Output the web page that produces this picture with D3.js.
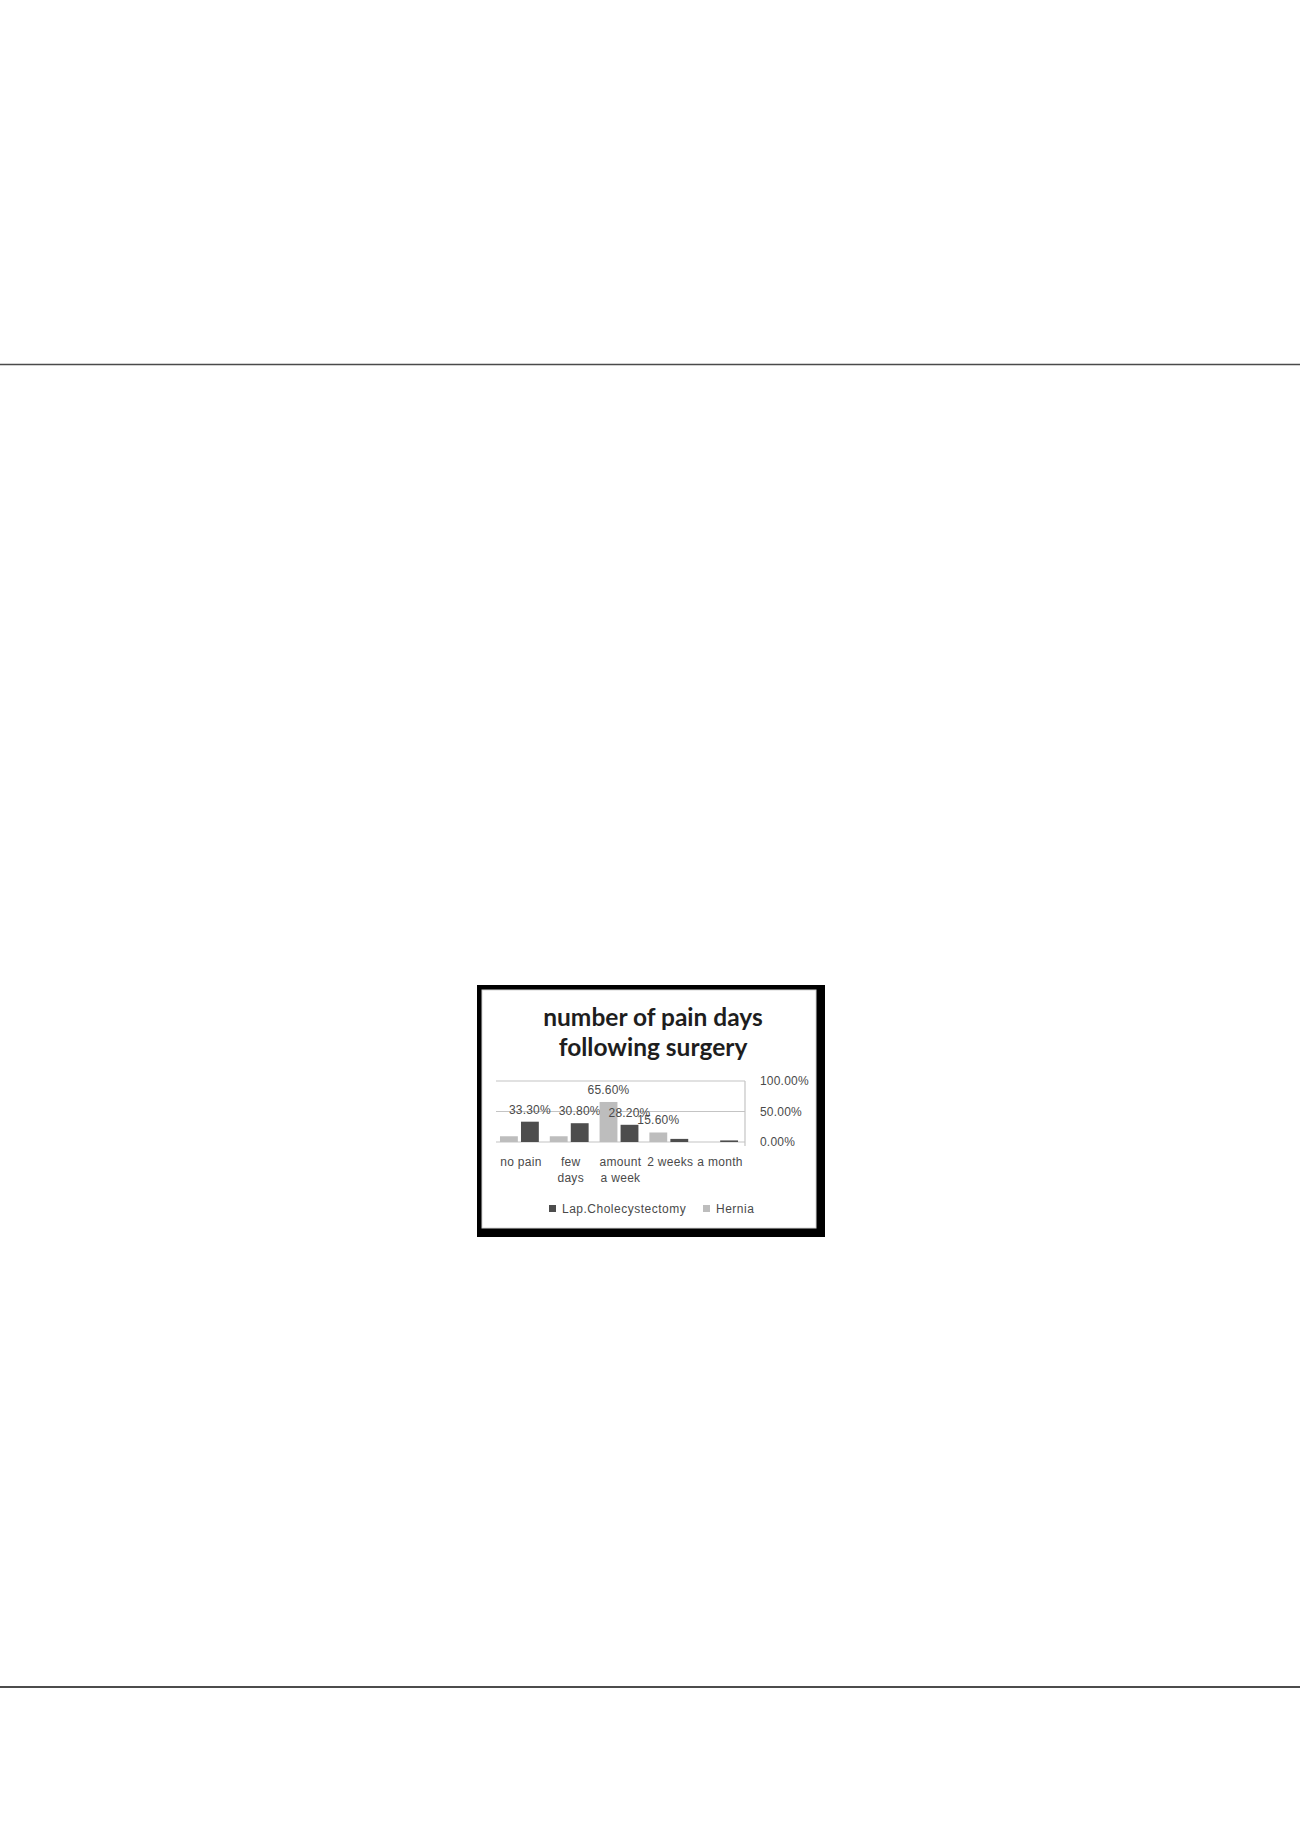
<!DOCTYPE html>
<html>
<head>
<meta charset="utf-8">
<script src="https://cdn.jsdelivr.net/npm/d3@7"></script>
<style>
  body { margin: 0; background: #fff; }
  svg { display: block; }
</style>
</head>
<body>
<svg></svg>
<script>
// data
const categories = [["no pain"], ["few", "days"], ["amount", "a week"], ["2 weeks"], ["a month"]]
const seriesNames = ["Hernia", "Lap.Cholecystectomy"]
const hernia = [0.094, 0.094, 0.656, 0.156, 0]
const lapChole = [0.333, 0.308, 0.282, 0.051, 0.026]
const yTicks = [0, 0.5, 1]
const legendOrder = ["Lap.Cholecystectomy", "Hernia"]

// constants
const width = 1300
const height = 1839
const darkCol = "#4d4d4d"
const lightCol = "#bdbdbd"
const gridCol = "#c4c4c4"
const textCol = "#4a4a4a"
const seriesCol = { "Hernia": lightCol, "Lap.Cholecystectomy": darkCol }
const font = "'Liberation Sans', Arial, sans-serif"

const svg = d3.select("svg")
  .attr("width", width)
  .attr("height", height)

// page rules
svg.append("line")
  .attr("x1", 0).attr("x2", width)
  .attr("y1", 364.5).attr("y2", 364.5)
  .attr("stroke", "#4a4a4a").attr("stroke-width", 1.5)
svg.append("line")
  .attr("x1", 0).attr("x2", width)
  .attr("y1", 1687).attr("y2", 1687)
  .attr("stroke", "#111").attr("stroke-width", 1.5)

// frame (thicker on right/bottom like a shadow)
svg.append("rect")
  .attr("x", 477).attr("y", 985)
  .attr("width", 348).attr("height", 252)
  .attr("fill", "#000")
svg.append("rect")
  .attr("x", 482).attr("y", 990)
  .attr("width", 334).attr("height", 238)
  .attr("fill", "#fff")
  .attr("stroke", "#d6d6d6").attr("stroke-width", 1)

// title
const title = svg.append("text")
  .attr("text-anchor", "middle")
  .style("font-family", "Lato, 'Open Sans', sans-serif")
  .style("font-weight", "bold")
  .style("font-size", "24.5px")
  .attr("fill", "#1e1e1e")
title.append("tspan").attr("x", 653).attr("y", 1026).text("number of pain days")
title.append("tspan").attr("x", 653).attr("y", 1056).text("following surgery")

// scales
const plotLeft = 496, plotRight = 745, plotTop = 1081, plotBottom = 1142
const x0 = d3.scaleBand()
  .domain(d3.range(categories.length))
  .range([plotLeft, plotRight])
const x1 = d3.scaleBand()
  .domain(seriesNames)
  .range([x0.bandwidth() * 0.08, x0.bandwidth() * 0.86])
  .paddingInner(0.15)
const y = d3.scaleLinear()
  .domain([0, 1])
  .range([plotBottom, plotTop])

// gridlines + right axis line
const g = svg.append("g")
g.selectAll(".grid")
  .data(yTicks)
  .join("line")
  .attr("class", "grid")
  .attr("x1", plotLeft).attr("x2", plotRight)
  .attr("y1", d => y(d)).attr("y2", d => y(d))
  .attr("stroke", gridCol).attr("stroke-width", 1.2)
g.append("line")
  .attr("x1", plotRight).attr("x2", plotRight)
  .attr("y1", plotTop).attr("y2", plotBottom + 4)
  .attr("stroke", gridCol).attr("stroke-width", 1.2)

const axis = d3.axisRight(y)
  .tickValues(yTicks)
  .tickSize(0)
  .tickPadding(15)
  .tickFormat(d => (d * 100).toFixed(2) + "%")
const axisG = svg.append("g")
  .attr("transform", `translate(${plotRight},0)`)
  .call(axis)
axisG.select(".domain").remove()
axisG.selectAll("text")
  .style("font-family", font)
  .style("font-size", "12px")
  .style("letter-spacing", "0.2px")
  .attr("fill", textCol)

// bars
const rows = categories.map((c, i) => ({ i, values: [
  { name: "Hernia", v: hernia[i] },
  { name: "Lap.Cholecystectomy", v: lapChole[i] }
] }))

const cat = svg.selectAll(".cat")
  .data(rows)
  .join("g")
  .attr("class", "cat")
  .attr("transform", d => `translate(${x0(d.i)},0)`)

cat.selectAll("rect")
  .data(d => d.values)
  .join("rect")
  .attr("x", d => x1(d.name))
  .attr("width", x1.bandwidth())
  .attr("y", d => y(d.v))
  .attr("height", d => plotBottom - y(d.v))
  .attr("fill", d => seriesCol[d.name])

cat.selectAll(".lbl")
  .data(d => d.values.filter(v => v.v > 0.12))
  .join("text")
  .attr("class", "lbl")
  .attr("x", d => x1(d.name) + x1.bandwidth() / 2)
  .attr("y", d => y(d.v) - 8)
  .attr("text-anchor", "middle")
  .style("font-family", font)
  .style("font-size", "12px")
  .style("letter-spacing", "0.2px")
  .attr("fill", textCol)
  .text(d => (d.v * 100).toFixed(2) + "%")

// category labels
const catLabels = svg.selectAll(".catlbl")
  .data(categories)
  .join("text")
  .attr("class", "catlbl")
  .attr("text-anchor", "middle")
  .style("font-family", font)
  .style("font-size", "12px")
  .style("letter-spacing", "0.3px")
  .attr("fill", textCol)
catLabels.selectAll("tspan")
  .data((d, i) => d.map((t, j) => ({ t, j, i })))
  .join("tspan")
  .attr("x", d => x0(d.i) + x0.bandwidth() / 2)
  .attr("y", d => 1166 + d.j * 16)
  .text(d => d.t)

// legend
const legendX = [549, 703]
const leg = svg.selectAll(".leg")
  .data(legendOrder)
  .join("g")
  .attr("class", "leg")
  .attr("transform", (d, i) => `translate(${legendX[i]},1209)`)
leg.append("rect")
  .attr("x", 0).attr("y", -4)
  .attr("width", 7).attr("height", 7)
  .attr("fill", d => seriesCol[d])
leg.append("text")
  .attr("x", 13)
  .attr("dy", "0.35em")
  .style("font-family", font)
  .style("font-size", "12px")
  .style("letter-spacing", "0.5px")
  .attr("fill", textCol)
  .text(d => d)
</script>
</body>
</html>
